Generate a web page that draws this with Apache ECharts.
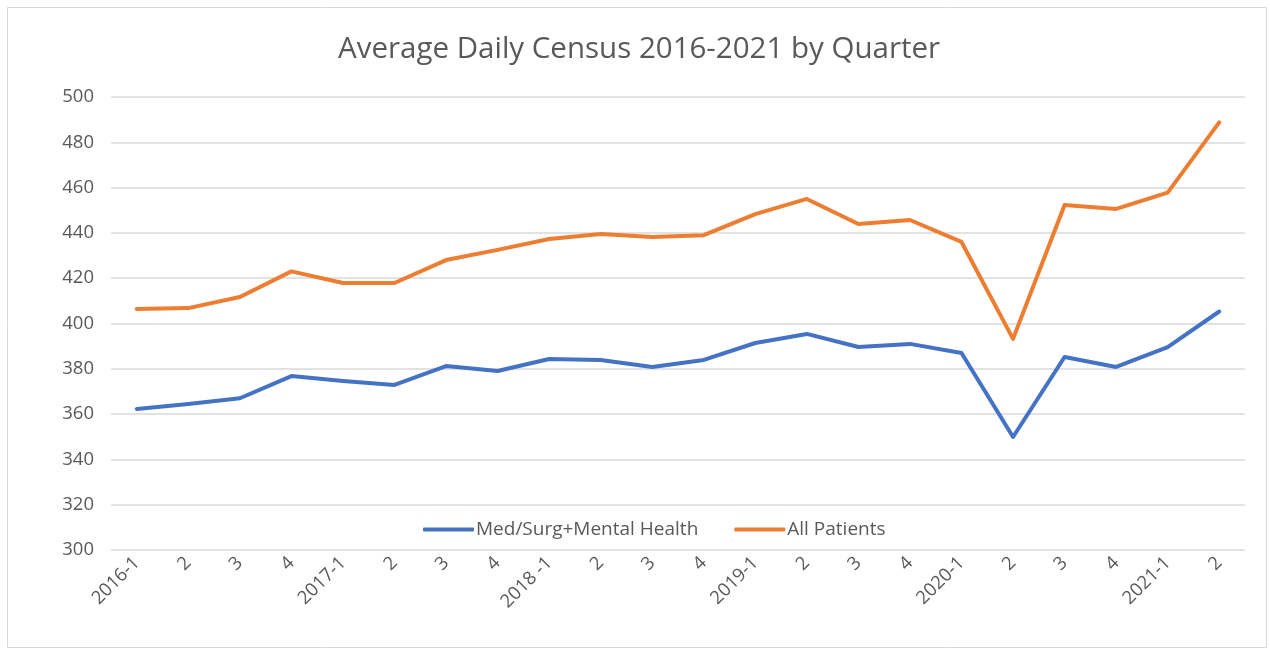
<!DOCTYPE html>
<html><head><meta charset="utf-8">
<script src="https://cdn.jsdelivr.net/npm/echarts@6/dist/echarts.min.js"></script>
<style>html,body{margin:0;padding:0;background:#fff;}#c{width:1270px;height:652px;}</style>
</head><body><div id="c"></div>
<script>
const categories = ['2016-1','2','3','4','2017-1','2','3','4','2018 -1','2','3','4','2019-1','2','3','4','2020-1','2','3','4','2021-1','2'];
const medSurg = [362.3,364.5,367.0,376.8,374.6,372.9,381.2,379.0,384.3,383.9,380.8,383.9,391.4,395.4,389.6,391.0,387.0,349.9,385.2,380.8,389.6,405.3];
const allPatients = [406.4,406.8,411.7,423.0,417.9,417.9,428.0,432.5,437.3,439.5,438.2,439.0,448.3,455.0,443.9,445.7,436.0,393.2,452.3,450.6,457.8,488.8];
const yTicks = {min:300,max:500,interval:20};
const titleText = 'Average Daily Census 2016-2021 by Quarter';
const names = ['Med/Surg+Mental Health','All Patients'];

const chart = echarts.init(document.getElementById('c'));
const font = 'Open Sans, Noto Sans, sans-serif';
chart.setOption({
  animation:false,
  backgroundColor:'#fff',
  graphic:[{type:'rect',shape:{x:7.5,y:7.5,width:1259,height:640},style:{fill:'none',stroke:'#d9d9d9',lineWidth:1}}],
  title:{text:titleText,left:333,top:30,textStyle:{color:'#595959',fontSize:29.5,fontWeight:'normal',fontFamily:font}},
  legend:{bottom:108,left:418,itemWidth:51,itemHeight:4,itemGap:36,icon:'roundRect',
    textStyle:{color:'#595959',fontSize:19,fontFamily:font,padding:[0,0,0,-3]},data:names},
  grid:{left:111,right:25,top:97,bottom:102,containLabel:false},
  xAxis:{type:'category',data:categories,boundaryGap:true,
    axisLine:{show:false},axisTick:{show:false},
    axisLabel:{interval:0,rotate:45,color:'#595959',fontSize:18.5,fontFamily:font,margin:10}},
  yAxis:{type:'value',min:yTicks.min,max:yTicks.max,interval:yTicks.interval,
    axisLine:{show:false},axisTick:{show:false},
    axisLabel:{color:'#595959',fontSize:18.5,fontFamily:font,margin:17},
    splitLine:{lineStyle:{color:'#d9d9d9',width:1.5}}},
  series:[
    {name:names[0],type:'line',data:medSurg,symbol:'none',lineStyle:{color:'#4472C4',width:4,cap:'round',join:'round'},itemStyle:{color:'#4472C4'}},
    {name:names[1],type:'line',data:allPatients,symbol:'none',lineStyle:{color:'#ED7D31',width:4,cap:'round',join:'round'},itemStyle:{color:'#ED7D31'}}
  ]
});
</script></body></html>
